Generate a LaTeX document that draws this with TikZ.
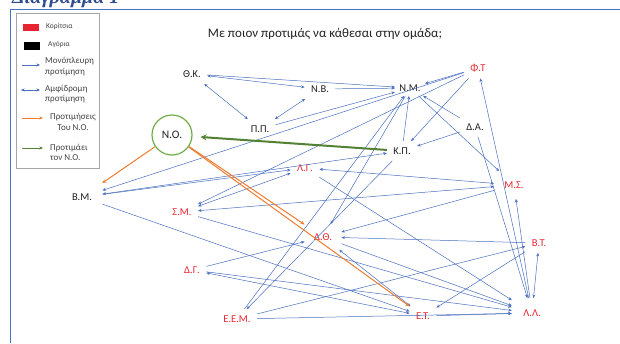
\documentclass[tikz,border=0pt]{standalone}
\usepackage{fontspec}
\setmainfont{Carlito}
\newfontfamily\titlefont{Liberation Serif}
\usepackage{tikz}
\usetikzlibrary{arrows.meta, positioning}
\definecolor{sblue}{HTML}{4A70C0}
\definecolor{sred}{HTML}{E62530}
\definecolor{sblack}{HTML}{222222}
\definecolor{sorange}{HTML}{ED7D31}
\definecolor{sgreen}{HTML}{548235}
\definecolor{sgreenlight}{HTML}{70AD47}
\definecolor{stitle}{HTML}{2E4C8E}
\definecolor{sframe}{HTML}{4472C4}

\tikzset{
  kid/.style={font=\fontsize{10.5}{12}\selectfont, inner sep=1.5pt, outer sep=5pt},
  girl/.style={kid, text=sred},
  boy/.style={kid, text=sblack},
  oneway/.style={sblue, line width=0.5pt, -{Stealth[length=3.5pt, width=3pt]}},
  twoway/.style={sblue, line width=0.5pt, {Stealth[length=3.5pt, width=3pt]}-{Stealth[length=3.5pt, width=3pt]}},
  nopref/.style={sorange, line width=1pt, -{Stealth[length=4pt, width=3.5pt]}},
  tonopref/.style={sgreen, line width=2pt, -{Stealth[length=6pt, width=6pt]}},
  legtext/.style={font=\fontsize{9}{10.5}\selectfont, text=sblack!85, anchor=west, align=left, inner sep=0pt}
}

\begin{document}
\begin{tikzpicture}[x=1pt, y=-1pt]

  \useasboundingbox (0,0) rectangle (620,343);
  \fill[white] (0,0) rectangle (620,343);

  %% Title and frame
  \node[font=\titlefont\bfseries\itshape\fontsize{20}{24}\selectfont, text=stitle,
    anchor=base west, inner sep=0pt] (title) at (12,3) {Διάγραμμα 1};
  \draw[sframe, line width=0.8pt] (10.5,343) -- (10.5,9.5) -- (620,9.5);
  \node[font=\fontsize{13}{15}\selectfont, text=sblack] (question) at (325,34)
    {Με ποιον προτιμάς να κάθεσαι στην ομάδα;};

  %% Legend
  \draw[gray!70, line width=0.6pt] (16,13) rectangle (99,168);
  \fill[sred] (23,24) rectangle (39,31);
  \fill[black] (24,42) rectangle (40,50);
  \draw[oneway] (22,65) -- (40,65);
  \draw[twoway] (21,90) -- (40,90);
  \draw[sorange, line width=0.9pt, -{Stealth[length=3.5pt, width=3pt]}] (22,118) -- (43,118);
  \draw[sgreen, line width=0.9pt, -{Stealth[length=3.5pt, width=3pt]}] (22,148) -- (43,148);
  \node[legtext, font=\fontsize{7.5}{9}\selectfont] (leggirl) at (46,26) {Κορίτσια};
  \node[legtext, font=\fontsize{7.5}{9}\selectfont] (legboy) at (48,44) {Αγόρια};
  \node[legtext] (legone) at (45,66.5) {Μονόπλευρη\\προτίμηση};
  \node[legtext] (legtwo) at (45,94) {Αμφίδρομη\\προτίμηση};
  \node[legtext, align=center] (legfrom) at (50,122) {Προτιμήσεις\\Του Ν.Ο.};
  \node[legtext] (legto) at (50,152.5) {Προτιμάει\\τον Ν.Ο.};

  %% Children
  \node[boy] (TK) at (192,74) {Θ.Κ.};
  \node[boy] (NB) at (320,89) {Ν.Β.};
  \node[boy] (PP) at (260,129) {Π.Π.};
  \node[boy, outer sep=3pt] (NM) at (410,88) {Ν.Μ.};
  \node[boy] (KP) at (402,151) {Κ.Π.};
  \node[boy] (DA) at (475,127) {Δ.Α.};
  \node[boy, outer sep=9pt] (BM) at (82,197) {Β.Μ.};
  \node[girl] (FT) at (478,68) {Φ.Τ};
  \node[girl, outer sep=9pt] (MS) at (514,185) {Μ.Σ.};
  \node[girl] (LG) at (305,168) {Λ.Γ.};
  \node[girl] (SM) at (182,212) {Σ.Μ.};
  \node[girl, outer sep=8pt] (DT) at (323,237) {Δ.Θ.};
  \node[girl] (BT) at (539,243) {Β.Τ.};
  \node[girl] (DG) at (192,270) {Δ.Γ.};
  \node[girl] (EEM) at (237,319) {Ε.Ε.Μ.};
  \node[girl] (ET) at (423,316) {Ε.Τ.};
  \node[girl, outer sep=10pt] (LL) at (532,313) {Λ.Λ.};
  \node[circle, draw=sgreenlight, line width=1.2pt, fill=white, minimum size=40pt,
    font=\fontsize{11.5}{13}\selectfont, text=sblack] (NO) at (172,135) {Ν.Ο.};

  %% Preferences
  \foreach \a/\b in {TK/NM, NB/NM, PP/NM, KP/NM, FT/NM, DA/NM, EEM/NM, FT/KP, DA/KP,
    FT/BM, FT/SM, NM/MS, NM/DT, DA/LL, LL/FT, LL/MS, MS/DT, BT/DT, DG/DT, DT/LL,
    BT/ET, EEM/BT, ET/LL, EEM/LL, DG/LL, SM/LL, LG/LL, BM/LG, BM/ET, KP/EEM}
    \draw[oneway] (\a) -- (\b);
  \foreach \a/\b in {TK/NB, TK/PP, PP/NB, KP/BM, LG/MS, SM/LG, SM/MS, DT/ET, DG/ET, BT/LL}
    \draw[twoway] (\a) -- (\b);
  \foreach \b in {BM, DT, ET}
    \draw[nopref] (NO) -- (\b);
  \draw[tonopref, shorten >=8pt] (KP) -- (NO);

\end{tikzpicture}
\end{document}
